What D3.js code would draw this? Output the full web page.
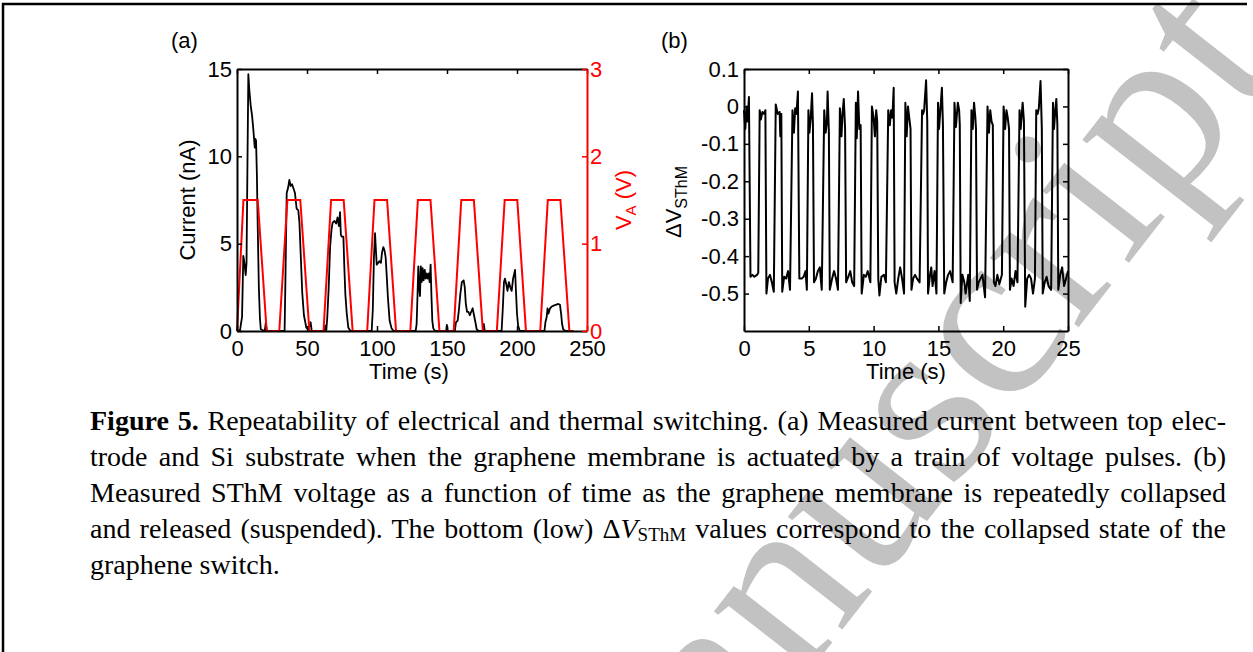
<!DOCTYPE html>
<html>
<head>
<meta charset="utf-8">
<script src="https://cdn.jsdelivr.net/npm/d3@7"></script>
<style>
body { margin: 0; background: #fff; }
#fig { position: relative; width: 1253px; height: 652px; overflow: hidden; background: #fff; }
#fig svg { position: absolute; left: 0; top: 0; }
.axis text { font-family: "Liberation Sans", Arial, sans-serif; font-size: 22px; }
.lbl { font-family: "Liberation Sans", Arial, sans-serif; font-size: 22px; }
.cap { position: absolute; left: 90px; top: 403px; width: 1136px;
       font-family: "Liberation Serif", "Times New Roman", serif; font-size: 28px; color: #000; }
.cap div { height: 36px; line-height: 36px; text-align: justify; text-align-last: justify; }
.cap div.last { text-align-last: left; }
.cap sub { font-size: 19px; vertical-align: -3px; line-height: 0; }
</style>
</head>
<body>
<div id="fig"></div>
<script>

// ---- data ----
// (a) current trace, [time s, current nA]
var currentTrace = [
  [0, 0], [2.2, 0.05], [2.8, 0.4], [3.6, 0.8], [4.5, 4.3], [5.3, 3.9], [6.2, 3.2], [6.8, 3.9], [7.4, 9],
  [8.1, 14.7], [8.8, 13.8], [9.8, 12.9], [10.8, 12.3], [11.6, 11.6], [12.2, 11.0], [12.7, 10.5],
  [13.1, 11.0], [13.6, 10.9], [14.2, 9], [14.8, 6], [15.6, 2.5], [16.4, 0.7], [17, 0.1], [19.8, 0],
  [20.6, 0.5], [21.3, 0], [34, 0], [34.6, 3], [35.5, 7.9], [36.5, 8.2], [37.4, 8.65], [38.3, 8.3],
  [39.3, 8.4], [40.2, 8.2], [41.4, 7.9], [42.6, 7.0], [43.8, 6.9], [44.6, 6.2], [45.5, 4.4],
  [46.6, 2.2], [47.8, 0.9], [49.5, 0.2], [51, 0.1], [52.6, 0.5], [53.4, 0], [62.4, 0], [63, 0.3],
  [63.8, 0.05], [64.5, 0.8], [65.5, 2.5], [66.5, 4.8], [67.5, 5.8], [68.3, 6.2], [69.6, 6.3],
  [70.8, 6.15], [71.8, 6.5], [72.8, 6.0], [73.6, 6.8], [74.2, 5.5], [74.8, 5.4], [76, 5.4],
  [76.6, 3.8], [77.4, 2.1], [78.4, 1.0], [79.5, 0.2], [81, 0], [96.2, 0], [97, 1.2], [97.8, 4.2],
  [98.6, 5.6], [99.3, 4.5], [99.8, 3.8], [100.8, 3.9], [101.8, 4.0], [102.8, 3.9], [103.6, 4.5],
  [104.5, 4.8], [105.4, 4.6], [106.2, 4.2], [107, 3.1], [107.8, 1.9], [109, 0.6], [110.4, 0.15],
  [112, 0], [127.6, 0], [128.3, 0.4], [129, 2.2], [129.5, 3.7], [130.1, 2.6], [130.7, 2.0],
  [131.3, 3.7], [131.9, 2.8], [132.6, 3.6], [133.3, 2.9], [134.1, 3.5], [134.8, 3.0], [135.5, 3.3],
  [136.2, 3.0], [137, 3.3], [137.6, 2.8], [138.3, 3.8], [138.9, 2.0], [139.5, 0.6], [140.2, 0.15],
  [141.4, 0], [149.4, 0], [149.9, 0.35], [150.5, 0], [155.6, 0], [156.4, 0.5], [157.6, 0.6],
  [158.5, 1.2], [159.5, 2.1], [160.6, 2.8], [161.9, 2.9], [162.7, 2.5], [163.4, 1.6], [164.3, 1.1],
  [165.3, 1.1], [166.3, 0.9], [167.3, 1.1], [168.3, 1.3], [169.3, 0.9], [170.3, 0.5], [171.2, 0.1],
  [172.5, 0], [175.8, 0], [176.3, 0.4], [177, 0], [189, 0], [189.8, 1.2], [190.7, 2.8],
  [191.4, 3.0], [192.3, 2.7], [193.2, 2.3], [194.2, 2.8], [195.2, 2.5], [196.2, 2.3], [197.2, 3.0],
  [198.6, 3.5], [199.3, 2.2], [200, 1.0], [200.8, 0.3], [202, 0], [219.6, 0], [220.3, 0.5],
  [221.2, 0.8], [221.8, 1.3], [222.5, 1.0], [223.6, 1.3], [224.8, 1.4], [226.2, 1.45], [227.6, 1.5],
  [229.5, 1.55], [230.7, 1.5], [231.5, 1.0], [232.2, 0.4], [233, 0.1], [234.5, 0], [240, 0]
];

// (a) applied voltage, [time s, V_A volts]
var voltageTrace = [
  [0, 0], [4.6, 1.5], [14.8, 1.5], [21.2, 0],
  [30.2, 0], [36.0, 1.5], [45.2, 1.5], [51.7, 0],
  [61.8, 0], [67.2, 1.5], [76.2, 1.5], [82.6, 0],
  [93.0, 0], [98.2, 1.5], [107.2, 1.5], [113.6, 0],
  [123.8, 0], [129.2, 1.5], [138.2, 1.5], [144.6, 0],
  [154.8, 0], [160.2, 1.5], [169.2, 1.5], [175.6, 0],
  [185.6, 0], [191.2, 1.5], [200.2, 1.5], [206.4, 0],
  [216.6, 0], [222.0, 1.5], [231.0, 1.5], [237.4, 0], [240.5, 0]
];

// (b) SThM voltage, [time s, delta V]
var sthmTrace = [
  [0, -0.01], [0.1, -0.06], [0.2, 0.0], [0.28, -0.04], [0.38, 0.025], [0.5, -0.455], [0.65, -0.45], [0.8, -0.455], [1.0, -0.45], [1.1, -0.445],
  [1.21, -0.01], [1.3, -0.035], [1.42, -0.015], [1.55, -0.02], [1.65, -0.01], [1.73, -0.5], [1.85, -0.46], [2.0, -0.45], [2.15, -0.47], [2.3, -0.495],
  [2.45, 0.005], [2.6, -0.02], [2.75, -0.015], [2.8, -0.08], [2.88, -0.02], [2.95, -0.495], [3.1, -0.455], [3.25, -0.46], [3.4, -0.44], [3.55, -0.49],
  [3.74, -0.01], [3.85, -0.07], [3.95, -0.005], [4.05, -0.02], [4.16, 0.04], [4.27, -0.46], [4.45, -0.46], [4.6, -0.455], [4.75, -0.44], [4.85, -0.49],
  [4.97, -0.01], [5.05, -0.07], [5.15, -0.03], [5.25, 0.035], [5.32, -0.05], [5.4, -0.47], [5.55, -0.46], [5.7, -0.44], [5.85, -0.43], [6.0, -0.49],
  [6.19, -0.01], [6.3, -0.07], [6.4, -0.04], [6.45, 0.04], [6.55, -0.07], [6.62, -0.49], [6.8, -0.46], [6.95, -0.44], [7.1, -0.46], [7.25, -0.49],
  [7.4, -0.005], [7.52, -0.08], [7.6, -0.02], [7.7, 0.02], [7.8, -0.06], [7.88, -0.47], [8.05, -0.455], [8.2, -0.44], [8.35, -0.47], [8.5, -0.48],
  [8.63, 0.01], [8.7, -0.085], [8.8, 0.04], [8.9, -0.06], [9.0, -0.05], [9.08, -0.5], [9.25, -0.45], [9.4, -0.455], [9.55, -0.44], [9.75, -0.47],
  [9.87, 0.0], [10.0, -0.03], [10.1, -0.08], [10.2, -0.01], [10.28, -0.04], [10.36, -0.46], [10.45, -0.505], [10.6, -0.455], [10.8, -0.45], [10.95, -0.47],
  [11.13, -0.01], [11.25, -0.05], [11.35, -0.01], [11.45, -0.03], [11.55, 0.05], [11.62, -0.47], [11.75, -0.5], [11.9, -0.46], [12.05, -0.43], [12.2, -0.46], [12.35, -0.5],
  [12.45, 0.01], [12.55, -0.08], [12.65, 0.0], [12.75, -0.03], [12.85, -0.06], [12.92, -0.49], [13.05, -0.46], [13.2, -0.45], [13.35, -0.46], [13.55, -0.47],
  [13.74, -0.01], [13.82, -0.02], [13.9, -0.01], [14.05, 0.07], [14.14, -0.04], [14.2, -0.5], [14.35, -0.45], [14.45, -0.43], [14.55, -0.48], [14.7, -0.44], [14.85, -0.5],
  [14.97, 0.01], [15.05, -0.06], [15.15, -0.01], [15.27, 0.05], [15.35, -0.05], [15.45, -0.5], [15.6, -0.47], [15.75, -0.45], [15.9, -0.44], [16.1, -0.47],
  [16.24, 0.01], [16.35, -0.055], [16.5, 0.01], [16.6, -0.01], [16.65, -0.05], [16.72, -0.525], [16.85, -0.45], [17.0, -0.47], [17.1, -0.5], [17.3, -0.45], [17.42, -0.52],
  [17.55, -0.01], [17.65, -0.06], [17.75, 0.01], [17.85, -0.03], [17.9, -0.06], [17.98, -0.49], [18.1, -0.47], [18.25, -0.46], [18.4, -0.45], [18.6, -0.51],
  [18.79, 0.0], [18.9, -0.07], [19.0, -0.01], [19.1, -0.04], [19.2, -0.05], [19.28, -0.47], [19.4, -0.48], [19.55, -0.45], [19.7, -0.475], [19.9, -0.45],
  [20.03, 0.0], [20.15, -0.06], [20.25, -0.01], [20.35, -0.03], [20.45, -0.06], [20.52, -0.49], [20.65, -0.46], [20.8, -0.48], [20.95, -0.44], [21.1, -0.47],
  [21.26, -0.01], [21.35, -0.06], [21.5, 0.01], [21.6, -0.04], [21.7, -0.535], [21.85, -0.46], [22.0, -0.45], [22.15, -0.46], [22.3, -0.5], [22.45, -0.46],
  [22.55, -0.01], [22.65, -0.02], [22.75, -0.005], [22.88, 0.068], [22.98, -0.06], [23.05, -0.5], [23.2, -0.47], [23.35, -0.455], [23.5, -0.48], [23.7, -0.49],
  [23.84, 0.01], [23.92, -0.06], [24.02, -0.01], [24.1, 0.02], [24.18, -0.05], [24.25, -0.49], [24.4, -0.45], [24.55, -0.43], [24.7, -0.48], [24.85, -0.46], [25, -0.44]
];

// ticks
var xTicksA = [0, 50, 100, 150, 200, 250];
var yTicksA = [0, 5, 10, 15];
var vTicksA = [0, 1, 2, 3];
var xTicksB = [0, 5, 10, 15, 20, 25];
var yTicksB = [0.1, 0, -0.1, -0.2, -0.3, -0.4, -0.5];

var captionLines = [
  '<b>Figure 5.</b> Repeatability of electrical and thermal switching. (a) Measured current between top elec-',
  'trode and Si substrate when the graphene membrane is actuated by a train of voltage pulses. (b)',
  'Measured SThM voltage as a function of time as the graphene membrane is repeatedly collapsed',
  'and released (suspended). The bottom (low) \u0394<i>V</i><sub>SThM</sub> values correspond to the collapsed state of the',
  'graphene switch.'
];

// ---- drawing ----
var W = 1253, H = 652;

var svg = d3.select('#fig')
    .append('svg')
    .attr('width', W)
    .attr('height', H);

svg.append('rect').attr('width', W).attr('height', H).attr('fill', '#fff');

// watermark behind everything
svg.append('text')
    .attr('transform', 'translate(1285,63) rotate(-52)')
    .attr('text-anchor', 'end')
    .attr('font-family', '"Liberation Serif", "Times New Roman", serif')
    .attr('font-size', 245)
    .attr('fill', '#c2c2c2')
    .text('Accepted Manuscript');

// page frame (top + left)
svg.append('path')
    .attr('d', 'M3,652V4H1247')
    .attr('fill', 'none')
    .attr('stroke', '#000')
    .attr('stroke-width', 2.5);

// ---- panel (a) ----
var pa = { left: 237, right: 587, top: 69, bottom: 331 };

var xa = d3.scaleLinear().domain([0, 250]).range([pa.left, pa.right]);
var ya = d3.scaleLinear().domain([0, 15]).range([pa.bottom, pa.top]);
var va = d3.scaleLinear().domain([0, 3]).range([pa.bottom, pa.top]);

var lineA = d3.line().x(function(d) { return xa(d[0]); }).y(function(d) { return ya(d[1]); });
var lineV = d3.line().x(function(d) { return xa(d[0]); }).y(function(d) { return va(d[1]); });

svg.append('path')
    .datum(currentTrace)
    .attr('d', lineA)
    .attr('fill', 'none')
    .attr('stroke', '#000')
    .attr('stroke-width', 1.8)
    .attr('stroke-linejoin', 'round');

svg.append('path')
    .datum(voltageTrace)
    .attr('d', lineV)
    .attr('fill', 'none')
    .attr('stroke', '#ff0000')
    .attr('stroke-width', 2);

svg.append('g')
    .attr('class', 'axis')
    .attr('transform', 'translate(0,' + pa.bottom + ')')
    .call(d3.axisBottom(xa).tickValues(xTicksA).tickSize(-5).tickSizeOuter(0).tickPadding(9).tickFormat(d3.format('d')));

svg.append('g')
    .attr('class', 'axis')
    .attr('transform', 'translate(0,' + pa.top + ')')
    .call(d3.axisTop(xa).tickValues(xTicksA).tickSize(-5).tickSizeOuter(0).tickFormat(''));

svg.append('g')
    .attr('class', 'axis')
    .attr('transform', 'translate(' + pa.left + ',0)')
    .call(d3.axisLeft(ya).tickValues(yTicksA).tickSize(-5).tickSizeOuter(0).tickPadding(5).tickFormat(d3.format('d')));

svg.append('g')
    .attr('class', 'axis')
    .attr('color', '#ff0000')
    .attr('transform', 'translate(' + pa.right + ',0)')
    .call(d3.axisRight(va).tickValues(vTicksA).tickSize(-5).tickSizeOuter(0).tickPadding(3).tickFormat(d3.format('d')));

svg.append('text')
    .attr('class', 'lbl')
    .attr('transform', 'translate(195,200) rotate(-90)')
    .attr('text-anchor', 'middle')
    .text('Current (nA)');

var vlab = svg.append('text')
    .attr('class', 'lbl')
    .attr('fill', '#ff0000')
    .attr('transform', 'translate(631,200) rotate(-90)')
    .attr('text-anchor', 'middle');
vlab.append('tspan').text('V');
vlab.append('tspan').attr('font-size', 15).attr('dy', 5).text('A');
vlab.append('tspan').attr('dy', -5).text(' (V)');

svg.append('text')
    .attr('class', 'lbl')
    .attr('x', 409)
    .attr('y', 379)
    .attr('text-anchor', 'middle')
    .text('Time (s)');

svg.append('text')
    .attr('class', 'lbl')
    .attr('font-size', 23)
    .attr('x', 171)
    .attr('y', 48)
    .text('(a)');

// ---- panel (b) ----
var pb = { left: 744, right: 1068, top: 69, bottom: 331 };

var xb = d3.scaleLinear().domain([0, 25]).range([pb.left, pb.right]);
var yb = d3.scaleLinear().domain([-0.6, 0.1]).range([pb.bottom, pb.top]);

var lineB = d3.line().x(function(d) { return xb(d[0]); }).y(function(d) { return yb(d[1]); });

svg.append('path')
    .datum(sthmTrace)
    .attr('d', lineB)
    .attr('fill', 'none')
    .attr('stroke', '#000')
    .attr('stroke-width', 2)
    .attr('stroke-linejoin', 'round');

var fmtB = function(d) { return d === 0 ? '0' : String(+d.toFixed(1)); };

svg.append('g')
    .attr('class', 'axis')
    .attr('transform', 'translate(0,' + pb.bottom + ')')
    .call(d3.axisBottom(xb).tickValues(xTicksB).tickSize(-5).tickSizeOuter(0).tickPadding(9).tickFormat(d3.format('d')));

svg.append('g')
    .attr('class', 'axis')
    .attr('transform', 'translate(0,' + pb.top + ')')
    .call(d3.axisTop(xb).tickValues(xTicksB).tickSize(-5).tickSizeOuter(0).tickFormat(''));

svg.append('g')
    .attr('class', 'axis')
    .attr('transform', 'translate(' + pb.left + ',0)')
    .call(d3.axisLeft(yb).tickValues(yTicksB).tickSize(-5).tickSizeOuter(0).tickPadding(5).tickFormat(fmtB));

svg.append('g')
    .attr('class', 'axis')
    .attr('transform', 'translate(' + pb.right + ',0)')
    .call(d3.axisRight(yb).tickValues(yTicksB).tickSize(-5).tickSizeOuter(0).tickFormat(''));

var dlab = svg.append('text')
    .attr('class', 'lbl')
    .attr('transform', 'translate(681,202) rotate(-90)')
    .attr('text-anchor', 'middle');
dlab.append('tspan').text('\u0394V');
dlab.append('tspan').attr('font-size', 16).attr('dy', 6).text('SThM');

svg.append('text')
    .attr('class', 'lbl')
    .attr('x', 906)
    .attr('y', 379)
    .attr('text-anchor', 'middle')
    .text('Time (s)');

svg.append('text')
    .attr('class', 'lbl')
    .attr('font-size', 23)
    .attr('x', 661)
    .attr('y', 48)
    .text('(b)');

// axis line weights
svg.selectAll('.axis .domain').attr('stroke-width', 2);
svg.selectAll('.axis .tick line').attr('stroke-width', 1.5);

// ---- caption ----
var cap = d3.select('#fig').append('div').attr('class', 'cap');
cap.selectAll('div')
    .data(captionLines)
    .enter()
    .append('div')
    .attr('class', function(d, i) { return i === captionLines.length - 1 ? 'last' : null; })
    .html(function(d) { return d; });

</script>
</body>
</html>
